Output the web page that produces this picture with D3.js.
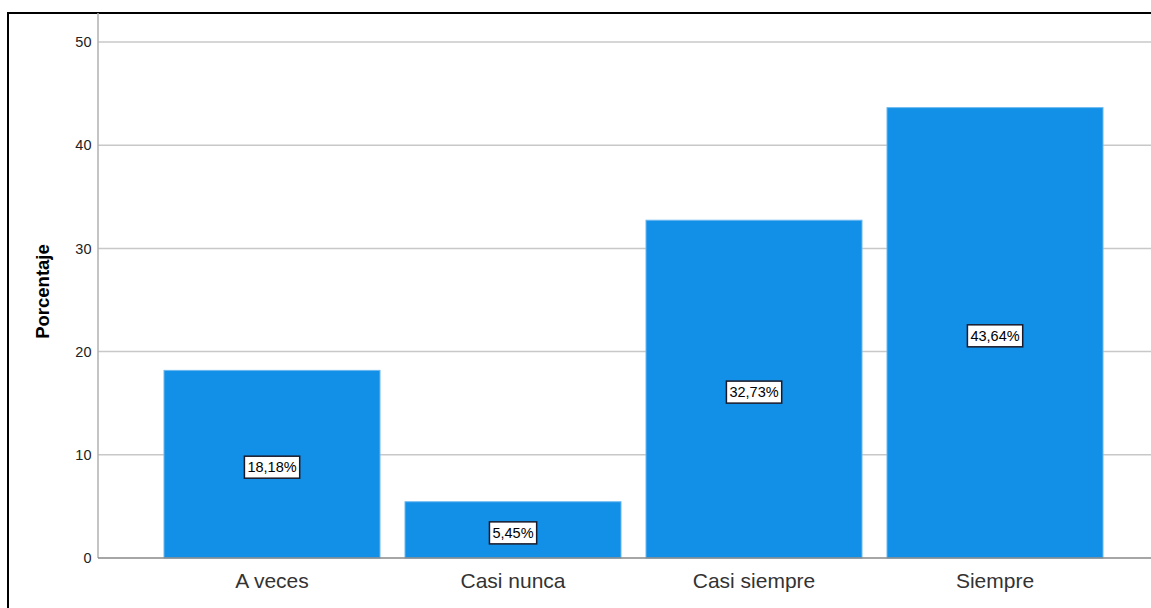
<!DOCTYPE html>
<html><head><meta charset="utf-8">
<script src="https://cdn.jsdelivr.net/npm/d3@7"></script>
<style>body{margin:0;background:#fff}svg{display:block}</style>
</head><body>
<svg id="c" width="1151" height="608"></svg>
<script>
const categories = ["A veces", "Casi nunca", "Casi siempre", "Siempre"];
const values = [18.18, 5.45, 32.73, 43.64];
const labels = ["18,18%", "5,45%", "32,73%", "43,64%"];
const yTicks = [0, 10, 20, 30, 40, 50];

const svg = d3.select("#c");
const font = "Liberation Sans, Arial, sans-serif";
const x0 = 98, xEnd = 1160, yTop = 13;
const y = d3.scaleLinear().domain([0, 50]).range([558, 42]);
const pI = 25 / 241;
const x = d3.scaleBand().domain(categories).range([151.5, 1115.5]).paddingInner(pI).paddingOuter(pI / 2);

// frame
svg.append("rect").attr("x", 8).attr("y", 13).attr("width", 1200).attr("height", 700)
  .attr("fill", "none").attr("stroke", "#000").attr("stroke-width", 2);

// gridlines
svg.append("g").selectAll("line").data(yTicks.filter(d => d > 0)).join("line")
  .attr("x1", x0).attr("x2", xEnd).attr("y1", d => y(d)).attr("y2", d => y(d))
  .attr("stroke", "#c8c8c8").attr("stroke-width", 1.5);

// y axis line
svg.append("line").attr("x1", x0).attr("x2", x0).attr("y1", yTop).attr("y2", y(0))
  .attr("stroke", "#b0b0b0").attr("stroke-width", 1.5);

// y tick labels
svg.append("g").selectAll("text").data(yTicks).join("text")
  .attr("x", 91.5).attr("y", d => y(d)).attr("dy", "0.36em").attr("text-anchor", "end")
  .attr("font-family", font).attr("font-size", 14.5).attr("fill", "#222")
  .text(d => d);

// bars
svg.append("g").selectAll("rect").data(values).join("rect")
  .attr("x", (d, i) => x(categories[i])).attr("width", x.bandwidth())
  .attr("y", d => y(d)).attr("height", d => y(0) - y(d))
  .attr("fill", "#128fe6").attr("stroke", "#6ab8f0").attr("stroke-width", 1);

// baseline
svg.append("line").attr("x1", x0).attr("x2", xEnd).attr("y1", y(0)).attr("y2", y(0))
  .attr("stroke", "#888").attr("stroke-width", 1.5);

// value labels
const lg = svg.append("g").selectAll("g").data(values).join("g")
  .attr("transform", (d, i) => `translate(${x(categories[i]) + x.bandwidth() / 2},${y(d / 2) + 3})`);
lg.each(function(d, i) {
  const g = d3.select(this);
  const t = g.append("text").attr("text-anchor", "middle").attr("dy", "0.36em")
    .attr("font-family", font).attr("font-size", 14.5).attr("fill", "#000")
    .text(labels[i]);
  const b = t.node().getBBox();
  g.insert("rect", "text").attr("x", b.x - 3).attr("y", -11).attr("width", b.width + 6).attr("height", 22)
    .attr("fill", "#fff").attr("stroke", "#1a1a2a").attr("stroke-width", 1.5);
});

// category labels
svg.append("g").selectAll("text").data(categories).join("text")
  .attr("x", d => x(d) + x.bandwidth() / 2).attr("y", 588).attr("text-anchor", "middle")
  .attr("font-family", font).attr("font-size", 21).attr("fill", "#333")
  .text(d => d);

// y axis title
svg.append("text").attr("transform", "translate(49,291.5) rotate(-90)").attr("text-anchor", "middle")
  .attr("font-family", font).attr("font-size", 18.5).attr("font-weight", "bold")
  .attr("fill", "#000").text("Porcentaje");
</script>
</body></html>
